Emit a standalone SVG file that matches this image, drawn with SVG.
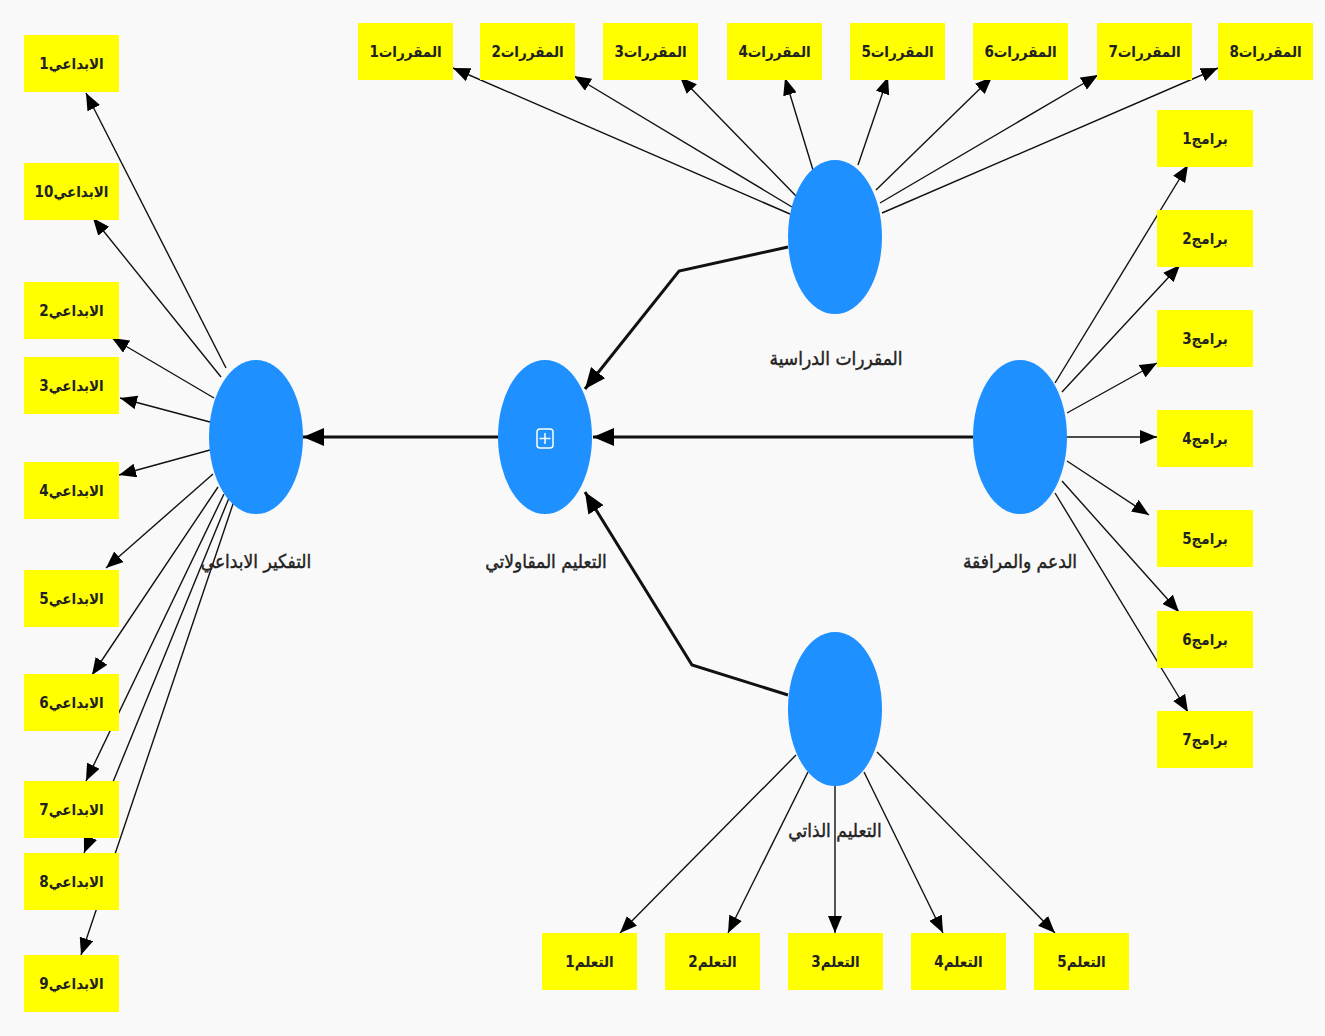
<svg xmlns="http://www.w3.org/2000/svg" width="1325" height="1036" viewBox="0 0 1325 1036">
<defs>
<marker id="ah" markerUnits="userSpaceOnUse" markerWidth="18" markerHeight="14" refX="17" refY="7" orient="auto"><path d="M0,0 L17,7 L0,14 z" fill="#000"/></marker>
<marker id="ahb" markerUnits="userSpaceOnUse" markerWidth="22" markerHeight="18" refX="21" refY="9" orient="auto"><path d="M0,0 L21,9 L0,18 z" fill="#000"/></marker>
</defs>
<style>
.bx{fill:#ffff00}
.bt{font-family:"DejaVu Sans Condensed","DejaVu Sans","Noto Sans",sans-serif;font-size:15px;font-weight:bold;fill:#222;text-anchor:middle}
.lv{fill:#1e90ff}
.lt{font-family:"DejaVu Sans Condensed","DejaVu Sans","Noto Sans",sans-serif;font-size:19px;fill:#222;stroke:#222;stroke-width:0.4;text-anchor:middle}
.th{stroke:#111;stroke-width:1.4;fill:none;marker-end:url(#ah)}
.tk{stroke:#111;stroke-width:3;fill:none;marker-end:url(#ahb)}
</style>
<rect width="1325" height="1036" fill="#f9f9f9"/>
<g id="connectors">
<line class="th" x1="226" y1="368" x2="86" y2="93"/>
<line class="th" x1="221" y1="377" x2="93" y2="218"/>
<line class="th" x1="214" y1="398" x2="112" y2="338"/>
<line class="th" x1="210" y1="422" x2="120" y2="398"/>
<line class="th" x1="210" y1="450" x2="119" y2="475"/>
<line class="th" x1="213" y1="474" x2="106" y2="568"/>
<line class="th" x1="218" y1="487" x2="92" y2="675"/>
<line class="th" x1="224" y1="494" x2="86" y2="781"/>
<line class="th" x1="229" y1="498" x2="84" y2="853"/>
<line class="th" x1="234" y1="501" x2="81" y2="955"/>
<line class="th" x1="790" y1="214" x2="453" y2="68"/>
<line class="th" x1="792" y1="207" x2="574" y2="76"/>
<line class="th" x1="796" y1="196" x2="680" y2="77"/>
<line class="th" x1="813" y1="170" x2="785" y2="78"/>
<line class="th" x1="858" y1="165" x2="888" y2="77"/>
<line class="th" x1="876" y1="190" x2="992" y2="77"/>
<line class="th" x1="880" y1="203" x2="1098" y2="75"/>
<line class="th" x1="882" y1="213" x2="1218" y2="68"/>
<line class="th" x1="1055" y1="383" x2="1188" y2="165"/>
<line class="th" x1="1062" y1="392" x2="1180" y2="265"/>
<line class="th" x1="1067" y1="413" x2="1157" y2="363"/>
<line class="th" x1="1067" y1="437" x2="1157" y2="437"/>
<line class="th" x1="1067" y1="461" x2="1149" y2="515"/>
<line class="th" x1="1062" y1="481" x2="1179" y2="612"/>
<line class="th" x1="1055" y1="493" x2="1188" y2="712"/>
<line class="th" x1="796" y1="755" x2="620" y2="933"/>
<line class="th" x1="808" y1="772" x2="728" y2="933"/>
<line class="th" x1="835" y1="786" x2="835" y2="933"/>
<line class="th" x1="864" y1="772" x2="943" y2="933"/>
<line class="th" x1="877" y1="752" x2="1055" y2="933"/>
<polyline class="tk" points="788,247 679,271 585,389"/>
<line class="tk" x1="973" y1="437" x2="593" y2="437"/>
<polyline class="tk" points="788,695 692,665 585,492"/>
<line class="tk" x1="498" y1="437" x2="303" y2="437"/>
</g>
<g id="n-tafkir"><ellipse class="lv" cx="256" cy="437" rx="47" ry="77"/><text class="lt" x="256" y="568">التفكير الابداعي</text></g>
<g id="n-taalim-muqawalati"><ellipse class="lv" cx="545" cy="437" rx="47" ry="77"/><rect x="537" y="429" width="16" height="19" rx="3" fill="none" stroke="#fff" stroke-width="1.5"/><path d="M545,433 V444 M539.5,438.5 H550.5" stroke="#fff" stroke-width="1.5"/><text class="lt" x="546" y="568">التعليم المقاولاتي</text></g>
<g id="n-muqarrarat"><ellipse class="lv" cx="835" cy="237" rx="47" ry="77"/><text class="lt" x="836" y="365">المقررات الدراسية</text></g>
<g id="n-daam"><ellipse class="lv" cx="1020" cy="437" rx="47" ry="77"/><text class="lt" x="1020" y="568">الدعم والمرافقة</text></g>
<g id="n-dhati"><ellipse class="lv" cx="835" cy="709" rx="47" ry="77"/><text class="lt" x="835" y="837">التعليم الذاتي</text></g>
<g id="b-ibdai1"><rect class="bx" x="24" y="35" width="95" height="57"/><text class="bt" x="71.5" y="69">الابداعي1</text></g>
<g id="b-ibdai10"><rect class="bx" x="24" y="163" width="95" height="57"/><text class="bt" x="71.5" y="197">الابداعي10</text></g>
<g id="b-ibdai2"><rect class="bx" x="24" y="282" width="95" height="57"/><text class="bt" x="71.5" y="316">الابداعي2</text></g>
<g id="b-ibdai3"><rect class="bx" x="24" y="357" width="95" height="57"/><text class="bt" x="71.5" y="391">الابداعي3</text></g>
<g id="b-ibdai4"><rect class="bx" x="24" y="462" width="95" height="57"/><text class="bt" x="71.5" y="496">الابداعي4</text></g>
<g id="b-ibdai5"><rect class="bx" x="24" y="570" width="95" height="57"/><text class="bt" x="71.5" y="604">الابداعي5</text></g>
<g id="b-ibdai6"><rect class="bx" x="24" y="674" width="95" height="57"/><text class="bt" x="71.5" y="708">الابداعي6</text></g>
<g id="b-ibdai7"><rect class="bx" x="24" y="781" width="95" height="57"/><text class="bt" x="71.5" y="815">الابداعي7</text></g>
<g id="b-ibdai8"><rect class="bx" x="24" y="853" width="95" height="57"/><text class="bt" x="71.5" y="887">الابداعي8</text></g>
<g id="b-ibdai9"><rect class="bx" x="24" y="955" width="95" height="57"/><text class="bt" x="71.5" y="989">الابداعي9</text></g>
<g id="b-muq1"><rect class="bx" x="358" y="23" width="95" height="57"/><text class="bt" x="405.5" y="57">المقررات1</text></g>
<g id="b-muq2"><rect class="bx" x="480" y="23" width="95" height="57"/><text class="bt" x="527.5" y="57">المقررات2</text></g>
<g id="b-muq3"><rect class="bx" x="603" y="23" width="95" height="57"/><text class="bt" x="650.5" y="57">المقررات3</text></g>
<g id="b-muq4"><rect class="bx" x="727" y="23" width="95" height="57"/><text class="bt" x="774.5" y="57">المقررات4</text></g>
<g id="b-muq5"><rect class="bx" x="850" y="23" width="95" height="57"/><text class="bt" x="897.5" y="57">المقررات5</text></g>
<g id="b-muq6"><rect class="bx" x="973" y="23" width="95" height="57"/><text class="bt" x="1020.5" y="57">المقررات6</text></g>
<g id="b-muq7"><rect class="bx" x="1097" y="23" width="95" height="57"/><text class="bt" x="1144.5" y="57">المقررات7</text></g>
<g id="b-muq8"><rect class="bx" x="1218" y="23" width="95" height="57"/><text class="bt" x="1265.5" y="57">المقررات8</text></g>
<g id="b-bar1"><rect class="bx" x="1157" y="110" width="96" height="57"/><text class="bt" x="1205" y="144">برامج1</text></g>
<g id="b-bar2"><rect class="bx" x="1157" y="210" width="96" height="57"/><text class="bt" x="1205" y="244">برامج2</text></g>
<g id="b-bar3"><rect class="bx" x="1157" y="310" width="96" height="57"/><text class="bt" x="1205" y="344">برامج3</text></g>
<g id="b-bar4"><rect class="bx" x="1157" y="410" width="96" height="57"/><text class="bt" x="1205" y="444">برامج4</text></g>
<g id="b-bar5"><rect class="bx" x="1157" y="510" width="96" height="57"/><text class="bt" x="1205" y="544">برامج5</text></g>
<g id="b-bar6"><rect class="bx" x="1157" y="611" width="96" height="57"/><text class="bt" x="1205" y="645">برامج6</text></g>
<g id="b-bar7"><rect class="bx" x="1157" y="711" width="96" height="57"/><text class="bt" x="1205" y="745">برامج7</text></g>
<g id="b-taal1"><rect class="bx" x="542" y="933" width="95" height="57"/><text class="bt" x="589.5" y="967">التعلم1</text></g>
<g id="b-taal2"><rect class="bx" x="665" y="933" width="95" height="57"/><text class="bt" x="712.5" y="967">التعلم2</text></g>
<g id="b-taal3"><rect class="bx" x="788" y="933" width="95" height="57"/><text class="bt" x="835.5" y="967">التعلم3</text></g>
<g id="b-taal4"><rect class="bx" x="911" y="933" width="95" height="57"/><text class="bt" x="958.5" y="967">التعلم4</text></g>
<g id="b-taal5"><rect class="bx" x="1034" y="933" width="95" height="57"/><text class="bt" x="1081.5" y="967">التعلم5</text></g>
</svg>
